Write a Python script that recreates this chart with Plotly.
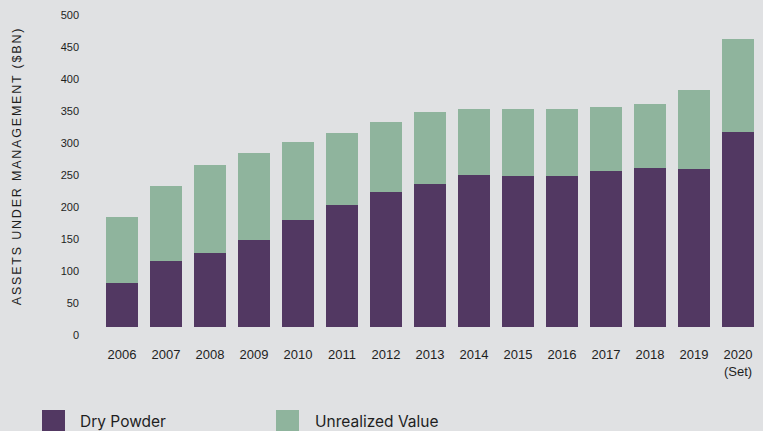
import plotly.graph_objects as go

years = ["2006", "2007", "2008", "2009", "2010", "2011", "2012", "2013",
         "2014", "2015", "2016", "2017", "2018", "2019", "2020<br>(Set)"]
dry_powder = [69, 103, 116, 136, 167, 191, 211, 223, 238, 236, 236, 244, 248, 247, 305]
unrealized_value = [103, 117, 137, 136, 122, 112, 109, 113, 103, 105, 105, 100, 100, 123, 145]
series_names = ["Dry Powder", "Unrealized Value"]
y_ticks = [0, 50, 100, 150, 200, 250, 300, 350, 400, 450, 500]

PURPLE = "#523862"
GREEN = "#8fb49d"
BG = "#e0e1e3"
TXT = "#1e1e1e"

fig = go.Figure()
fig.add_trace(go.Bar(x=years, y=dry_powder, name=series_names[0],
                     marker=dict(color=PURPLE, line=dict(width=0))))
fig.add_trace(go.Bar(x=years, y=unrealized_value, name=series_names[1],
                     marker=dict(color=GREEN, line=dict(width=0))))

fig.update_layout(
    width=763, height=431,
    barmode="stack", bargap=0.295,
    paper_bgcolor=BG, plot_bgcolor=BG,
    margin=dict(l=100, r=3, t=5, b=104),
    showlegend=False,
    hovermode=False,
    font=dict(family="Liberation Sans, Arial, sans-serif", color=TXT),
)
fig.update_xaxes(
    type="category", showgrid=False, zeroline=False, showline=False,
    ticks="", tickfont=dict(size=13, color=TXT), ticklabelstandoff=18,
)
fig.update_yaxes(
    range=[0, 503.125], tickvals=y_ticks, ticktext=[str(v) for v in y_ticks],
    showgrid=False, zeroline=False, showline=False, ticks="",
    tickfont=dict(size=11, color=TXT), ticklabelstandoff=20, ticklabelshift=8,
    title=dict(text="ASSETS UNDER MANAGEMENT ($BN)", standoff=36,
               font=dict(size=12.5, color=TXT, family="Liberation Sans, Arial, sans-serif")),
)

# Custom legend (large squares as in the reference)
legend_items = [(series_names[0], PURPLE, 42, 78), (series_names[1], GREEN, 276, 313)]
for name, col, sx, tx in legend_items:
    fig.add_shape(type="rect", xref="paper", yref="paper",
                  x0=(sx - 100) / 660, x1=(sx + 23 - 100) / 660,
                  y0=(327 - 433) / 322, y1=(327 - 410) / 322,
                  fillcolor=col, line=dict(width=0), layer="above")
    fig.add_annotation(text=name, xref="paper", yref="paper",
                       x=(tx - 100) / 660, y=(327 - 421) / 322,
                       xanchor="left", yanchor="middle", showarrow=False,
                       font=dict(family="Inter, Roboto, sans-serif", size=15.5, color=TXT))

post = """
var gd = document.getElementById('{plot_id}');
function spaceTitle(){
  var t = gd.querySelectorAll('.ytitle');
  t.forEach(function(e){ e.style.letterSpacing = '1.8px'; });
}
spaceTitle();
gd.on('plotly_afterplot', spaceTitle);
"""
fig.write_html("out.html", post_script=post)
